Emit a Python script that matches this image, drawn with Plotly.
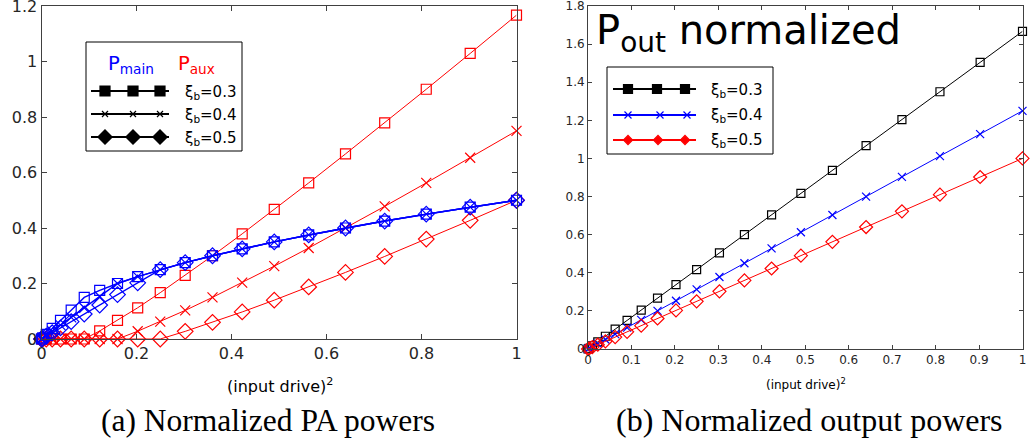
import plotly.graph_objects as go

# (input drive)^2 sample points
drive_sq = [0, 0.0025, 0.01, 0.0225, 0.04, 0.0625, 0.09, 0.1225, 0.16, 0.2025, 0.25,
            0.3025, 0.36, 0.4225, 0.49, 0.5625, 0.64, 0.7225, 0.81, 0.9025, 1.0]

# (a) normalized PA powers
p_main_03 = [0, 0.004, 0.017, 0.038, 0.067, 0.104, 0.15, 0.175, 0.2, 0.225, 0.25,
             0.275, 0.3, 0.325, 0.35, 0.375, 0.4, 0.425, 0.45, 0.475, 0.5]
p_main_04 = [0, 0.003, 0.0125, 0.028, 0.05, 0.078, 0.1125, 0.153, 0.2, 0.225, 0.25,
             0.275, 0.3, 0.325, 0.35, 0.375, 0.4, 0.425, 0.45, 0.475, 0.5]
p_main_05 = [0, 0.0025, 0.01, 0.0225, 0.04, 0.0625, 0.09, 0.1225, 0.16, 0.2025, 0.25,
             0.275, 0.3, 0.325, 0.35, 0.375, 0.4, 0.425, 0.45, 0.475, 0.5]
p_aux_03 = [0, 0, 0, 0, 0, 0, 0, 0.029, 0.067, 0.1125, 0.167,
            0.229, 0.3, 0.379, 0.467, 0.5625, 0.667, 0.779, 0.9, 1.029, 1.167]
p_aux_04 = [0, 0, 0, 0, 0, 0, 0, 0, 0, 0.028, 0.0625,
            0.103, 0.15, 0.203, 0.2625, 0.328, 0.4, 0.478, 0.5625, 0.653, 0.75]
p_aux_05 = [0, 0, 0, 0, 0, 0, 0, 0, 0, 0, 0,
            0.0275, 0.06, 0.0975, 0.14, 0.1875, 0.24, 0.2975, 0.36, 0.4275, 0.5]

# (b) normalized output powers
p_out_03 = [0, 0.004, 0.017, 0.0375, 0.067, 0.104, 0.15, 0.204, 0.267, 0.3375, 0.417,
            0.504, 0.6, 0.704, 0.817, 0.9375, 1.067, 1.204, 1.35, 1.504, 1.667]
p_out_04 = [0, 0.003, 0.0125, 0.028, 0.05, 0.078, 0.1125, 0.153, 0.2, 0.253, 0.3125,
            0.378, 0.45, 0.528, 0.6125, 0.703, 0.8, 0.903, 1.0125, 1.128, 1.25]
p_out_05 = [0, 0.0025, 0.01, 0.0225, 0.04, 0.0625, 0.09, 0.1225, 0.16, 0.2025, 0.25,
            0.3025, 0.36, 0.4225, 0.49, 0.5625, 0.64, 0.7225, 0.81, 0.9025, 1.0]

xi_labels = ["ξ<sub>b</sub>=0.3", "ξ<sub>b</sub>=0.4", "ξ<sub>b</sub>=0.5"]
left_ticks = [0, 0.2, 0.4, 0.6, 0.8, 1]
left_yticks = [0, 0.2, 0.4, 0.6, 0.8, 1, 1.2]
right_ticks = [0, 0.1, 0.2, 0.3, 0.4, 0.5, 0.6, 0.7, 0.8, 0.9, 1]
right_yticks = [0, 0.2, 0.4, 0.6, 0.8, 1, 1.2, 1.4, 1.6, 1.8]

W, H = 1032, 444
BLUE, RED = "#0000FF", "#FF0000"
FONT = "DejaVu Sans"
AX = "#404040"

fig = go.Figure()

def add(x, y, color, symbol, size, lw, xa, ya):
    fig.add_trace(go.Scatter(
        x=x, y=y, mode="lines+markers", xaxis=xa, yaxis=ya, cliponaxis=False,
        line=dict(color=color, width=lw),
        marker=dict(symbol=symbol, size=size, color=color,
                    line=dict(color=color, width=1.2)),
        showlegend=False, hoverinfo="skip"))

# left panel
add(drive_sq, p_aux_03, RED, "square-open", 10, 1, "x", "y")
add(drive_sq, p_aux_04, RED, "x-thin-open", 10, 1, "x", "y")
add(drive_sq, p_aux_05, RED, "diamond-open", 12, 1, "x", "y")
add(drive_sq, p_main_05, BLUE, "diamond-open", 12, 1.4, "x", "y")
add(drive_sq, p_main_04, BLUE, "x-thin-open", 10, 1.4, "x", "y")
add(drive_sq, p_main_03, BLUE, "square-open", 10, 1.4, "x", "y")

# right panel
add(drive_sq, p_out_03, "#000000", "square-open", 8, 1, "x2", "y2")
add(drive_sq, p_out_04, BLUE, "x-thin-open", 8, 1, "x2", "y2")
add(drive_sq, p_out_05, RED, "diamond-open", 10, 1, "x2", "y2")

# legend (drawn on a pixel overlay axis)
def leg_line(x0, x1, y, mx, color, symbol, size, xa="x3", ya="y3"):
    fig.add_trace(go.Scatter(x=[x0, x1], y=[y, y], mode="lines", xaxis=xa, yaxis=ya,
                             line=dict(color=color, width=2), showlegend=False,
                             hoverinfo="skip"))
    fig.add_trace(go.Scatter(x=mx, y=[y] * len(mx), mode="markers", xaxis=xa, yaxis=ya,
                             marker=dict(symbol=symbol, size=size, color=color,
                                         line=dict(color=color, width=1.2)),
                             showlegend=False, hoverinfo="skip"))

leg_line(91, 169, 91, [105, 133, 160], "#000000", "square", 10)
leg_line(91, 169, 114, [105, 133, 160], "#000000", "x-thin-open", 6)
leg_line(91, 169, 137, [105, 133, 160], "#000000", "diamond", 11)

leg_line(613, 696, 89, [628, 657, 685], "#000000", "square", 9)
leg_line(613, 696, 115, [628, 660, 687], BLUE, "x-thin-open", 7)
leg_line(613, 696, 140, [628, 658, 685], RED, "diamond", 7)

shapes = [
    dict(type="rect", xref="x3", yref="y3", x0=86, x1=242, y0=42, y1=151,
         line=dict(color="#000000", width=1), fillcolor="rgba(255,255,255,0)", layer="below"),
    dict(type="rect", xref="x3", yref="y3", x0=607, x1=773, y0=67, y1=154,
         line=dict(color="#000000", width=1), fillcolor="rgba(255,255,255,0)", layer="below"),
]

ann = []
def txt(x, y, s, size, color="#000000", family=FONT, xanchor="left"):
    ann.append(dict(x=x, y=y, xref="x3", yref="y3", text=s, showarrow=False,
                    xanchor=xanchor, yanchor="middle",
                    font=dict(size=size, color=color, family=family)))

txt(106, 64, "P<sub>main</sub>", 19.5, BLUE)
txt(176, 64, "P<sub>aux</sub>", 19.5, RED)
for i, yy in enumerate([92, 115, 138]):
    txt(183, yy, xi_labels[i], 15)
for i, yy in enumerate([90, 115, 140]):
    txt(709, yy, xi_labels[i], 15)
txt(594, 33, "P<sub>out</sub> normalized", 40)
txt(280, 385, "(input drive)<sup>2</sup>", 16, "#000000", FONT, "center")
txt(806, 384, "(input drive)<sup>2</sup>", 12, "#000000", FONT, "center")
txt(268, 420, "(a) Normalized PA powers", 31.5, "#000000", "Liberation Serif", "center")
txt(809, 420, "(b) Normalized output powers", 32, "#000000", "Liberation Serif", "center")

def axis_common(**kw):
    d = dict(showline=True, linecolor=AX, linewidth=1, mirror="ticks", ticks="inside",
             tickcolor=AX, showgrid=False, zeroline=False, automargin=False,
             ticklabeloverflow="allow",
             tickfont=dict(family=FONT, color="#262626"))
    d.update(kw)
    return d

fig.update_layout(
    width=W, height=H, margin=dict(l=0, r=0, t=0, b=0),
    paper_bgcolor="white", plot_bgcolor="rgba(0,0,0,0)",
    xaxis=axis_common(domain=[41.5 / W, 516.5 / W], range=[0, 1], tickvals=left_ticks,
                      ticklen=5, tickfont=dict(size=16, family=FONT, color="#262626")),
    yaxis=axis_common(domain=[(H - 339) / H, (H - 6) / H], range=[0, 1.2],
                      tickvals=left_yticks, ticklen=5,
                      tickfont=dict(size=16, family=FONT, color="#262626")),
    xaxis2=axis_common(domain=[588 / W, 1022.5 / W], range=[0, 1], tickvals=right_ticks,
                       anchor="y2", ticklen=4,
                       tickfont=dict(size=12, family=FONT, color="#262626")),
    yaxis2=axis_common(domain=[(H - 349) / H, (H - 6) / H], range=[0, 1.8],
                       tickvals=right_yticks, anchor="x2", ticklen=4,
                       tickfont=dict(size=12, family=FONT, color="#262626")),
    xaxis3=dict(domain=[0, 1], range=[0, W], visible=False, anchor="y3", fixedrange=True),
    yaxis3=dict(domain=[0, 1], range=[H, 0], visible=False, anchor="x3", fixedrange=True),
    shapes=shapes, annotations=ann,
)

fig.write_html("out.html", config={"displayModeBar": False},
               post_script="document.body.style.margin='0';document.body.style.overflow='hidden';")
